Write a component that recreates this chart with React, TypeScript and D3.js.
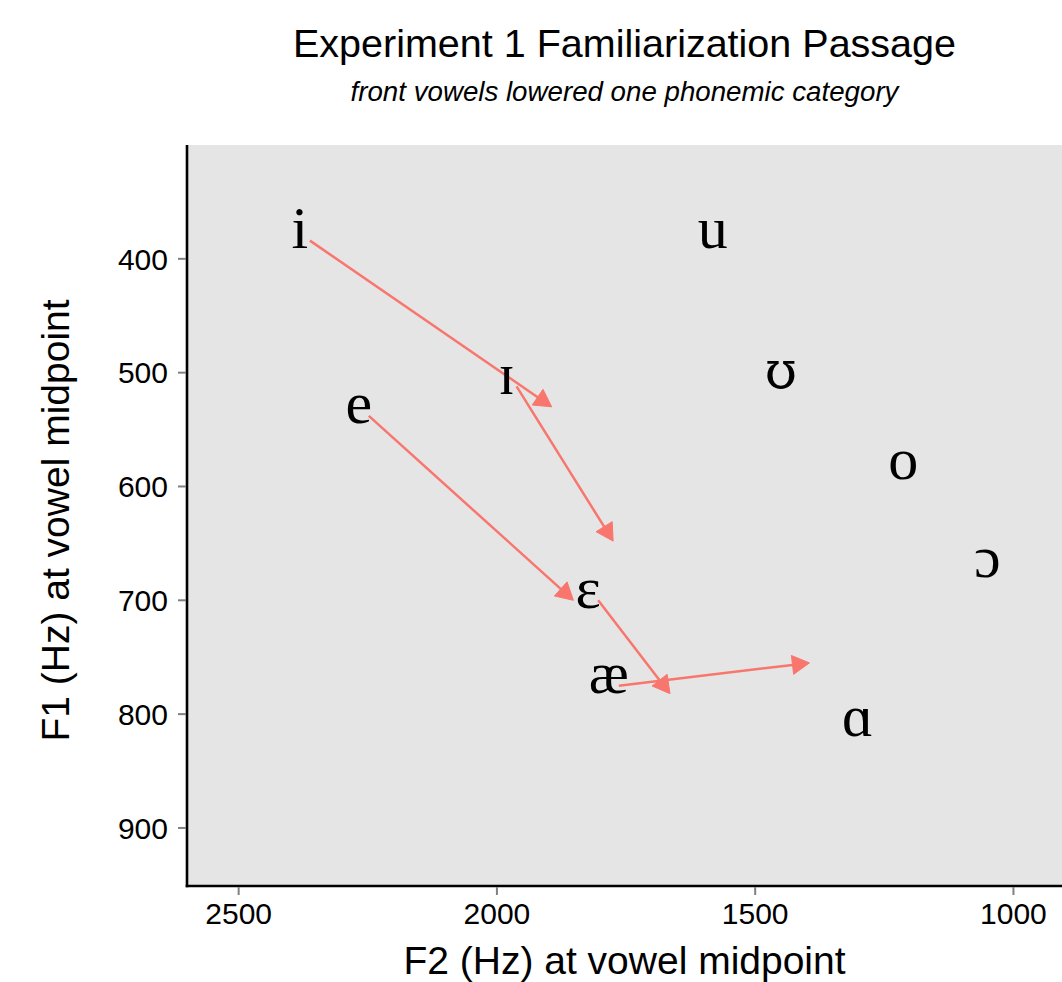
import React from "react";
import * as d3 from "d3";

// vowel positions (F2, F1 in Hz at vowel midpoint)
const vowels = ["i", "ɪ", "e", "ɛ", "æ", "ɑ", "u", "ʊ", "o", "ɔ"];
const vowelF2 = [2362, 1962, 2248, 1804, 1764, 1282, 1563, 1431, 1194, 1031];
const vowelF1 = [384, 512, 538, 700, 775, 813, 384, 507, 587, 673];

// where each front vowel was shifted to in the passage
const shiftFrom = ["i", "ɪ", "e", "ɛ", "æ"];
const shiftF2 = [1894, 1775, 1852, 1665, 1395];
const shiftF1 = [530, 648, 700, 782, 755];

const xTicks = [2500, 2000, 1500, 1000];
const yTicks = [400, 500, 600, 700, 800, 900];

const W = 1062;
const H = 982;
const left = 187, right = 1062, top = 145, bottom = 886;

const sans = "'Liberation Sans', Arial, Helvetica, sans-serif";
const serif = "'Liberation Serif', 'Times New Roman', 'DejaVu Serif', serif";
const arrowCol = "#F8766D";

export default function App() {
  const x = d3.scaleLinear().domain([2600, 906]).range([left, right]);
  const y = d3.scaleLinear().domain([300, 951]).range([top, bottom]);

  const arrows = shiftFrom.map((v, i) => {
    const k = vowels.indexOf(v);
    const x1 = x(vowelF2[k]), y1 = y(vowelF1[k]);
    const x2 = x(shiftF2[i]), y2 = y(shiftF1[i]);
    const len = Math.hypot(x2 - x1, y2 - y1);
    const dx = (x2 - x1) / len, dy = (y2 - y1) / len;
    const hl = 17, hw = 9.5;
    const bx = x2 - dx * hl, by = y2 - dy * hl;
    const head = [
      [x2, y2],
      [bx - dy * hw, by + dx * hw],
      [bx + dy * hw, by - dx * hw],
    ];
    return { v, x1, y1, bx, by, head };
  });

  return (
    <svg width={W} height={H} style={{ position: "absolute", left: 0, top: 0, background: "#fff" }}>
      <rect x={left} y={top} width={right - left} height={bottom - top} fill="#E5E5E5" />

      {arrows.map((a) => (
        <g key={"arr" + a.v}>
          <line x1={a.x1} y1={a.y1} x2={a.bx} y2={a.by} stroke={arrowCol} strokeWidth={2.5} />
          <polygon points={a.head.map((p) => p.join(",")).join(" ")} fill={arrowCol} stroke={arrowCol} strokeWidth={1} />
        </g>
      ))}

      {vowels.map((v, i) => {
        // the horseshoe upsilon reads better from DejaVu Serif
        const ups = v === "ʊ";
        return (
          <text key={"lab" + v} x={x(vowelF2[i]) - 10} y={y(vowelF1[i]) + 7.5}
            textAnchor="middle" fontFamily={ups ? "'DejaVu Serif', serif" : serif}
            fontSize={ups ? 52 : 60} fill="#000">
            {v}
          </text>
        );
      })}

      {/* axes */}
      <line x1={left} y1={top} x2={left} y2={bottom + 1.3} stroke="#000" strokeWidth={2.6} />
      <line x1={left - 1.3} y1={bottom} x2={right} y2={bottom} stroke="#000" strokeWidth={2.6} />

      {yTicks.map((t) => (
        <g key={"yt" + t}>
          <line x1={left - 9} x2={left - 1} y1={y(t)} y2={y(t)} stroke="#808080" strokeWidth={2} />
          <text x={left - 19} y={y(t)} dy="0.36em" textAnchor="end" fontFamily={sans} fontSize={30} fill="#000">
            {t}
          </text>
        </g>
      ))}
      {xTicks.map((t) => (
        <g key={"xt" + t}>
          <line x1={x(t)} x2={x(t)} y1={bottom + 1} y2={bottom + 9} stroke="#808080" strokeWidth={2} />
          <text x={x(t)} y={924} textAnchor="middle" fontFamily={sans} fontSize={30} fill="#000">
            {t}
          </text>
        </g>
      ))}

      <text x={(left + right) / 2} y={974} textAnchor="middle" fontFamily={sans} fontSize={39} fill="#000">
        F2 (Hz) at vowel midpoint
      </text>
      <text transform={`translate(69,${(top + bottom) / 2 + 5}) rotate(-90)`} textAnchor="middle" fontFamily={sans} fontSize={39} fill="#000">
        F1 (Hz) at vowel midpoint
      </text>

      <text x={(left + right) / 2} y={57} textAnchor="middle" fontFamily={sans} fontSize={39.5} fill="#000">
        Experiment 1 Familiarization Passage
      </text>
      <text x={(left + right) / 2} y={101} textAnchor="middle" fontFamily={sans} fontStyle="italic" fontSize={27.7} fill="#000">
        front vowels lowered one phonemic category
      </text>
    </svg>
  );
}
